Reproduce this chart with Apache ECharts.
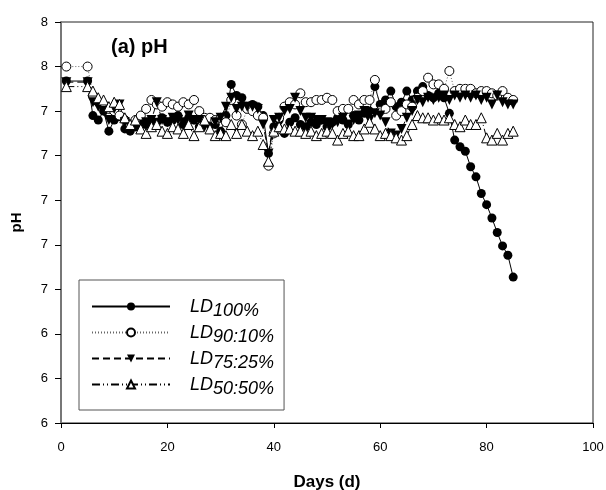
<!DOCTYPE html>
<html>
<head>
<meta charset="utf-8">
<script src="https://cdn.jsdelivr.net/npm/echarts@6/dist/echarts.min.js"></script>
<style>html,body{margin:0;padding:0;background:#fff;}#c{width:606px;height:490px;}</style>
</head>
<body>
<div id="c"></div>
<script>
const days = [1,5,6,7,8,9,10,11,12,13,14,15,16,17,18,19,20,21,22,23,24,25,26,27,28,29,30,31,32,33,34,35,36,37,38,39,40,41,42,43,44,45,46,47,48,49,50,51,52,53,54,55,56,57,58,59,60,61,62,63,64,65,66,67,68,69,70,71,72,73,74,75,76,77,78,79,80,81,82,83,84,85];
const ld100 = [7.535,7.535,7.38,7.36,7.40,7.31,7.36,7.375,7.32,7.31,7.33,7.35,7.34,7.36,7.35,7.37,7.35,7.36,7.38,7.34,7.37,7.36,7.33,7.35,7.36,7.34,7.31,7.38,7.52,7.47,7.46,7.42,7.43,7.42,7.38,7.21,7.33,7.36,7.30,7.35,7.37,7.34,7.33,7.35,7.34,7.36,7.33,7.35,7.37,7.36,7.34,7.38,7.36,7.39,7.40,7.51,7.43,7.45,7.49,7.42,7.44,7.49,7.45,7.49,7.51,7.47,7.46,7.48,7.46,7.39,7.27,7.24,7.22,7.15,7.105,7.03,6.98,6.92,6.855,6.795,6.753,6.655];
const ld90 = [7.60,7.60,7.47,7.44,7.43,7.41,7.40,7.38,7.36,7.34,7.36,7.38,7.41,7.45,7.43,7.42,7.44,7.43,7.42,7.44,7.43,7.45,7.40,7.37,7.37,7.36,7.37,7.35,7.45,7.38,7.34,7.41,7.40,7.38,7.37,7.155,7.30,7.37,7.42,7.44,7.43,7.48,7.44,7.44,7.45,7.45,7.46,7.45,7.40,7.41,7.41,7.45,7.43,7.45,7.45,7.54,7.40,7.41,7.44,7.38,7.40,7.43,7.42,7.46,7.49,7.55,7.52,7.52,7.50,7.58,7.49,7.50,7.50,7.50,7.48,7.49,7.49,7.48,7.47,7.49,7.46,7.45];
const ld75 = [7.53,7.53,7.44,7.42,7.40,7.36,7.41,7.43,7.35,7.33,7.33,7.32,7.35,7.36,7.44,7.36,7.35,7.37,7.36,7.35,7.38,7.36,7.36,7.33,7.32,7.35,7.37,7.42,7.46,7.41,7.42,7.42,7.42,7.41,7.34,7.21,7.36,7.37,7.40,7.41,7.46,7.40,7.37,7.37,7.36,7.36,7.35,7.34,7.35,7.37,7.34,7.36,7.38,7.40,7.36,7.39,7.38,7.35,7.30,7.29,7.32,7.37,7.40,7.45,7.44,7.46,7.45,7.46,7.47,7.45,7.47,7.46,7.47,7.46,7.47,7.45,7.46,7.43,7.47,7.44,7.43,7.43];
const ld50 = [7.51,7.51,7.49,7.46,7.45,7.42,7.44,7.43,7.37,7.34,7.36,7.32,7.30,7.33,7.34,7.31,7.30,7.33,7.32,7.30,7.34,7.29,7.33,7.36,7.32,7.29,7.30,7.29,7.34,7.30,7.34,7.31,7.29,7.31,7.25,7.175,7.31,7.33,7.32,7.32,7.31,7.31,7.30,7.31,7.29,7.30,7.31,7.30,7.27,7.30,7.31,7.29,7.29,7.32,7.35,7.32,7.29,7.30,7.29,7.28,7.27,7.29,7.34,7.38,7.37,7.37,7.36,7.37,7.36,7.37,7.34,7.33,7.36,7.34,7.34,7.37,7.28,7.27,7.30,7.27,7.30,7.31];
const seriesNames = ['LD100%','LD90:10%','LD75:25%','LD50:50%'];
const subs = {'LD100%':'100%','LD90:10%':'90:10%','LD75:25%':'75:25%','LD50:50%':'50:50%'};

const FONT = "'Liberation Sans', Arial, sans-serif";
const pair = arr => days.map((d,i)=>[d, arr[i]]);
const chart = echarts.init(document.getElementById('c'), null, {renderer:'canvas'});
chart.setOption({
  animation:false,
  backgroundColor:'#fff',
  textStyle:{fontFamily:FONT},
  title:{text:'(a) pH', left:106, top:32, textStyle:{fontFamily:FONT, fontSize:20, fontWeight:'bold', color:'#000'}},
  grid:{left:61, right:13, top:22, bottom:67, show:true, borderColor:'#222', borderWidth:1, containLabel:false, outerBoundsMode:'none'},
  xAxis:{type:'value', min:0, max:100, interval:20,
    name:'Days (d)', nameLocation:'middle', nameGap:51,
    nameTextStyle:{fontFamily:FONT, fontSize:17, fontWeight:'bold', color:'#000'},
    axisLine:{lineStyle:{color:'#000', width:1}},
    axisTick:{show:true, inside:false, length:5, lineStyle:{color:'#000'}},
    axisLabel:{color:'#000', fontSize:13, margin:18, fontFamily:FONT},
    splitLine:{show:false}},
  yAxis:{type:'value', min:6, max:7.8, interval:0.2,
    name:'pH', nameLocation:'middle', nameGap:37,
    nameTextStyle:{fontFamily:FONT, fontSize:15, fontWeight:'bold', color:'#000'},
    axisLine:{show:true, lineStyle:{color:'#777', width:2}},
    axisTick:{show:true, inside:false, length:6, lineStyle:{color:'#000'}},
    axisLabel:{color:'#000', fontSize:13, margin:13, fontFamily:FONT, formatter:v=>String(Math.round(v))},
    splitLine:{show:false}},
  legend:{
    orient:'vertical', left:79, top:280,
    padding:[13,10,12,12],
    borderColor:'#555', borderWidth:1, backgroundColor:'#fff',
    itemWidth:78, itemHeight:10, itemGap:-1,
    data:seriesNames,
    formatter:n=>'{a|LD}{b|'+subs[n]+'}',
    textStyle:{padding:[0,0,0,15], rich:{
      a:{fontFamily:FONT, fontSize:18, fontStyle:'italic', color:'#000', lineHeight:20, padding:[0,0,0,0]},
      b:{fontFamily:FONT, fontSize:18, fontStyle:'italic', color:'#000', lineHeight:20, padding:[9,0,0,0]}
    }}
  },
  series:[
    {name:'LD100%', type:'line', data:pair(ld100), symbol:'circle', symbolSize:9,
      itemStyle:{color:'#000', borderColor:'#000', borderWidth:0},
      lineStyle:{color:'#000', width:1, type:'solid'}},
    {name:'LD90:10%', type:'line', data:pair(ld90), symbol:'circle', symbolSize:9,
      itemStyle:{color:'#fff', borderColor:'#000', borderWidth:1},
      lineStyle:{color:'#666', width:1, type:[1,2]}},
    {name:'LD75:25%', type:'line', data:pair(ld75), symbol:'triangle', symbolSize:10, symbolRotate:180,
      itemStyle:{color:'#000', borderColor:'#000', borderWidth:0},
      lineStyle:{color:'#000', width:1, type:[7,4]}},
    {name:'LD50:50%', type:'line', data:pair(ld50), symbol:'triangle', symbolSize:10,
      itemStyle:{color:'#fff', borderColor:'#000', borderWidth:1},
      lineStyle:{color:'#000', width:1, type:[8,3,1,3,1,3]}}
  ]
});
</script>
</body>
</html>
